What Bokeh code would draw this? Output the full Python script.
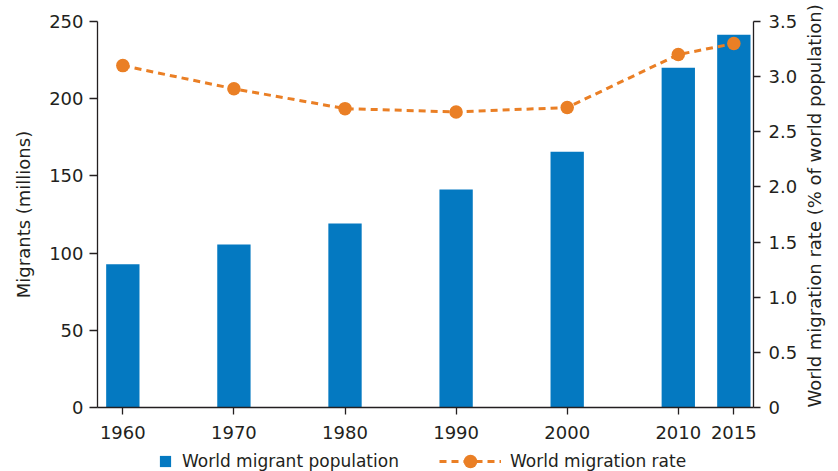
import math
from bokeh.plotting import figure
from bokeh.layouts import column
from bokeh.models import (Range1d, LinearAxis, FixedTicker, CustomJSTickFormatter,
                          Legend, LegendItem, ColumnDataSource)
from bokeh.embed import file_html
from bokeh.resources import INLINE

years = [1960, 1970, 1980, 1990, 2000, 2010, 2015]
migrants = [92.7, 105.6, 119.1, 141.2, 165.7, 220.1, 241.4]
rate = [3.10, 2.89, 2.71, 2.68, 2.72, 3.20, 3.30]
left_ticks = [0, 50, 100, 150, 200, 250]
right_ticks = [0, 0.5, 1.0, 1.5, 2.0, 2.5, 3.0, 3.5]
series_names = ["World migrant population", "World migration rate"]

BLUE = "#0479C1"
ORANGE = "#EA7F25"
INK = "#231F20"
FONT = "DejaVu Sans"

src = ColumnDataSource(data=dict(year=years, migrants=migrants, rate=rate))

p = figure(frame_width=656, frame_height=386,
           x_range=Range1d(1957.72, 2016.77), y_range=Range1d(0, 250),
           output_backend="svg", toolbar_location=None,
           min_border_left=97, min_border_right=85,
           min_border_top=21, min_border_bottom=39)
p.extra_y_ranges = {"rate": Range1d(0, 3.5)}
p.outline_line_color = None
p.xgrid.grid_line_color = None
p.ygrid.grid_line_color = None

p.vbar(x="year", top="migrants", width=3, source=src,
       fill_color=BLUE, line_color=None)
p.line(x="year", y="rate", source=src, y_range_name="rate",
       line_color=ORANGE, line_width=3, line_dash="7 5")
p.scatter(x="year", y="rate", source=src, y_range_name="rate",
          size=13.5, fill_color=ORANGE, line_color=None)

def style_axis(ax, tick_out, standoff, label_standoff):
    ax.axis_line_color = INK
    ax.axis_line_width = 1.3
    ax.major_tick_line_color = INK
    ax.major_tick_line_width = 1.3
    ax.major_tick_out = tick_out
    ax.major_tick_in = 0
    ax.minor_tick_out = 0
    ax.minor_tick_in = 0
    ax.major_label_text_font = FONT
    ax.major_label_text_font_size = "18px"
    ax.major_label_text_color = INK
    ax.major_label_standoff = standoff
    ax.axis_label_text_font = FONT
    ax.axis_label_text_font_size = "18px"
    ax.axis_label_text_font_style = "normal"
    ax.axis_label_text_color = INK
    ax.axis_label_standoff = label_standoff

xa = p.xaxis[0]
xa.ticker = FixedTicker(ticks=years)
style_axis(xa, 7, 11, 5)

ya = p.yaxis[0]
ya.ticker = FixedTicker(ticks=left_ticks)
ya.axis_label = "Migrants (millions)"
style_axis(ya, 8, 6, 12)

ra = LinearAxis(y_range_name="rate", ticker=FixedTicker(ticks=right_ticks),
                formatter=CustomJSTickFormatter(code="return tick == 0 ? '0' : tick.toFixed(1);"),
                axis_label="World migration rate (% of world population)")
style_axis(ra, 7, 8, 14)
try:
    ra.axis_label_orientation = math.pi / 2
except Exception:
    pass
try:
    ra.axis_label_align = "start"
except Exception:
    pass
p.add_layout(ra, "right")

# legend strip below the chart (its frame is aligned with the chart's frame)
lf = figure(width=838, height=25, x_range=Range1d(0, 100), y_range=Range1d(500, 600),
            output_backend="svg", toolbar_location=None,
            x_axis_type=None, y_axis_type=None,
            min_border_left=97, min_border_right=85, min_border_top=0, min_border_bottom=0)
lf.outline_line_color = None
lf.xgrid.grid_line_color = None
lf.ygrid.grid_line_color = None
# same data, outside this strip's ranges: only their legend glyphs show
r_bar = lf.vbar(x="year", top="migrants", width=3, source=src, fill_color=BLUE, line_color=None)
r_line = lf.line(x="year", y="rate", source=src, line_color=ORANGE, line_width=3, line_dash="7 5")
r_dot = lf.scatter(x="year", y="rate", source=src, fill_color=ORANGE, line_color=None)

def make_legend(items, loc, gw, gh, standoff):
    lg = Legend(items=items, location=loc, orientation="horizontal",
                glyph_width=gw, glyph_height=gh, label_standoff=standoff,
                label_text_font=FONT, label_text_font_size="17px",
                label_text_color=INK, label_height=20,
                padding=0, margin=0, spacing=0,
                border_line_alpha=0, background_fill_alpha=0)
    lf.add_layout(lg, "center")

make_legend([LegendItem(label=series_names[0], renderers=[r_bar])], (61, 0), 14, 14, 10)
make_legend([LegendItem(label=series_names[1], renderers=[r_line, r_dot])], (342, -7), 62, 34, 9)

layout = column(p, lf, spacing=0)
open("out.html", "w").write(file_html(layout, INLINE))
